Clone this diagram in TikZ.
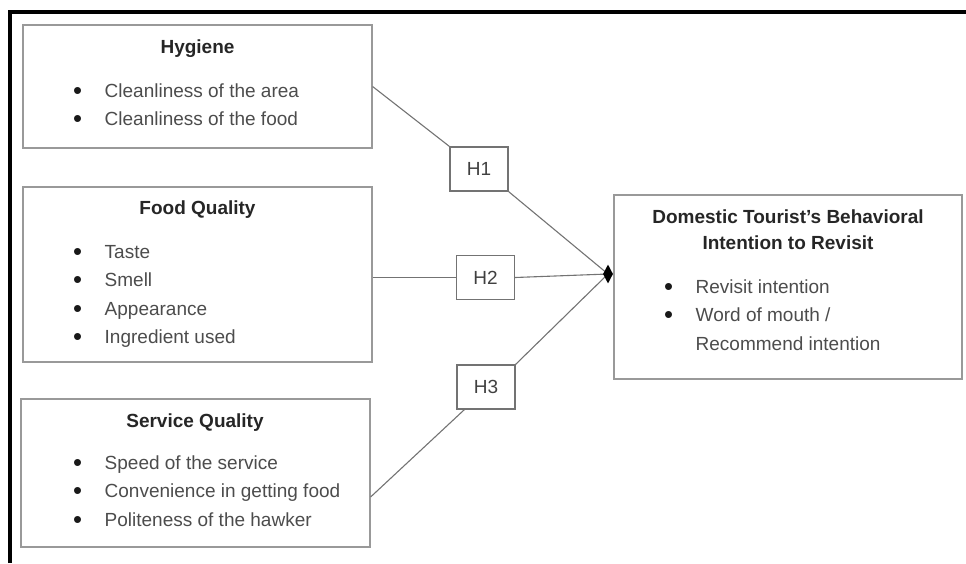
\documentclass[tikz,border=0pt]{standalone}
\usepackage{fontspec}
\setmainfont{Liberation Sans}
\usetikzlibrary{positioning, shapes.geometric}

\newcommand{\bul}[1]{\makebox[31.5pt][l]{\raisebox{-2pt}{\scalebox{1.35}{\color{black!90}\textbullet}}}#1}

\tikzset{
  factorbox/.style={draw=black!40, line width=1.2pt, inner sep=0pt},
  hypbox/.style={draw=black!55, line width=1.2pt, minimum width=58pt,
    minimum height=44pt, inner sep=0pt,
    font=\fontsize{19}{23}\selectfont, text=black!75},
  heading/.style={font=\fontsize{19}{26}\selectfont\bfseries,
    text=black!85, anchor=base, align=center, inner sep=0pt},
  item/.style={font=\fontsize{19}{28}\selectfont, text=black!70,
    anchor=base west, inner sep=0pt},
  link/.style={draw=black!55, line width=1.1pt},
}

\begin{document}
\begin{tikzpicture}[x=1pt, y=-1pt]

    \useasboundingbox (0,0) rectangle (966,563);
    \draw[line width=4pt] (10,563) -- (10,12) -- (966,12);

    \node[factorbox, minimum width=349pt, minimum height=123pt] (hyg) at (197.5,86.5) {};
    \node[factorbox, minimum width=349pt, minimum height=175pt] (food) at (197.5,274.5) {};
    \node[factorbox, minimum width=349pt, minimum height=148pt] (serv) at (195.5,473) {};
    \node[factorbox, minimum width=348pt, minimum height=184pt] (dti) at (788,287) {};

    \node[heading] (hyg-t) at (197.5,53) {Hygiene};
    \node[heading] (food-t) at (197.5,214) {Food Quality};
    \node[heading] (serv-t) at (195,427) {Service Quality};
    \node[heading] (dti-t) at (788,249) {Domestic Tourist’s Behavioral\\Intention to Revisit};

    \foreach \txt [count=\i] in {Cleanliness of the area, Cleanliness of the food}
      \node[item] (hyg-\i) at (73, 68.5+28.5*\i) {\bul{\txt}};
    \foreach \txt [count=\i] in {Taste, Smell, Appearance, Ingredient used}
      \node[item] (food-\i) at (73, 229.5+28.5*\i) {\bul{\txt}};
    \foreach \txt [count=\i] in {Speed of the service, Convenience in getting food, Politeness of the hawker}
      \node[item] (serv-\i) at (73, 440.5+28.5*\i) {\bul{\txt}};
    \foreach \txt [count=\i] in {Revisit intention, Word of mouth /}
      \node[item] (dti-\i) at (664, 264.5+28.5*\i) {\bul{\txt}};
    \node[item] (dti-3) at (695.5,350) {Recommend intention};

    \node[hypbox] (h1) at (479,169) {H1};
    \node[hypbox] (h2) at (485.5,277.5) {H2};
    \node[hypbox] (h3) at (486,387) {H3};

    \coordinate (jc) at (608,274);

    \draw[link] (hyg.east) -- (h1.north west);
    \draw[link] (h1.south east) -- (jc);
    \draw[link] (food.east |- h2.west) -- (h2.west);
    \draw[link] (h2.east) -- (jc);
    \draw[link] ([yshift=-24pt]serv.east) -- ([xshift=8pt]h3.south west);
    \draw[link] (h3.north east) -- (jc);

    \node[diamond, fill=black, inner sep=0pt, aspect=0.5,
      minimum width=10pt, minimum height=19pt] (jn) at (jc) {};

  \end{tikzpicture}
\end{document}
